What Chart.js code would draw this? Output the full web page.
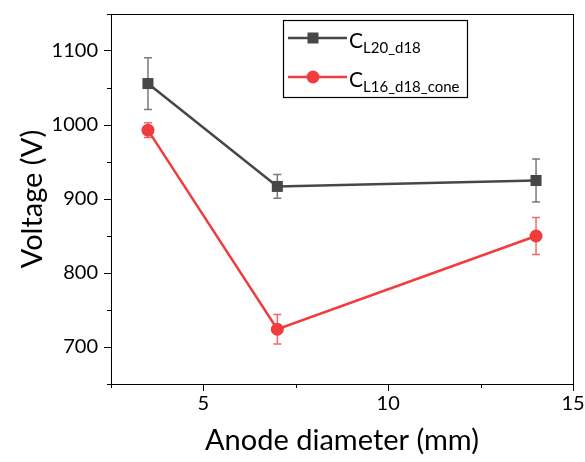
<!DOCTYPE html>
<html>
<head>
<meta charset="utf-8">
<script src="https://cdn.jsdelivr.net/npm/chart.js@4.4.1/dist/chart.umd.min.js"></script>
<style>
  body { margin: 0; background: #fff; }
  #wrap { width: 585px; height: 462px; position: relative; }
</style>
</head>
<body>
<div id="wrap"><canvas id="chart"></canvas></div>
<script>
// data
const diameters = [3.5, 7, 14];
const seriesNames = ['C', 'C'];
const seriesSubs = ['L20_d18', 'L16_d18_cone'];
const voltageL20 = [1056, 917, 925];
const errL20 = [35, 16, 29];
const voltageL16 = [993, 724, 850];
const errL16 = [10, 20, 25];

const FONT = 'Lato, "Open Sans", sans-serif';
const GRAY = '#474747';
const RED = '#f03c3c';

function toPoints(xs, ys) {
  return xs.map((x, i) => ({ x: x, y: ys[i] }));
}

// error bars, drawn under the markers
const errorBars = {
  id: 'errorBars',
  beforeDatasetsDraw(chart) {
    const ctx = chart.ctx;
    const xs = chart.scales.x, ys = chart.scales.y;
    const sets = [[voltageL20, errL20, '#7a7a7a'], [voltageL16, errL16, '#f06a6a']];
    ctx.save();
    ctx.lineWidth = 1.5;
    sets.forEach(([vals, errs, col]) => {
      ctx.strokeStyle = col;
      vals.forEach((v, i) => {
        const px = xs.getPixelForValue(diameters[i]);
        const top = ys.getPixelForValue(v + errs[i]);
        const bot = ys.getPixelForValue(v - errs[i]);
        ctx.beginPath();
        ctx.moveTo(px, top); ctx.lineTo(px, bot);
        ctx.moveTo(px - 4, top); ctx.lineTo(px + 4, top);
        ctx.moveTo(px - 4, bot); ctx.lineTo(px + 4, bot);
        ctx.stroke();
      });
    });
    ctx.restore();
  }
};

// frame, minor ticks and legend box
const frame = {
  id: 'frame',
  afterDraw(chart) {
    const ctx = chart.ctx;
    const a = chart.chartArea;
    ctx.save();
    ctx.strokeStyle = '#000';
    ctx.lineWidth = 1;
    ctx.strokeRect(a.left + 0.5, a.top + 0.5, a.right - a.left, a.bottom - a.top);

    // minor ticks
    ctx.beginPath();
    chart.scales.y.ticks.forEach(t => {
      if (t.value % 100 !== 0) {
        const py = Math.round(chart.scales.y.getPixelForValue(t.value)) + 0.5;
        ctx.moveTo(a.left, py); ctx.lineTo(a.left - 4, py);
      }
    });
    chart.scales.x.ticks.forEach(t => {
      if (t.value % 5 !== 0) {
        const px = Math.round(chart.scales.x.getPixelForValue(t.value)) + 0.5;
        ctx.moveTo(px, a.bottom); ctx.lineTo(px, a.bottom + 4);
      }
    });
    ctx.stroke();

    // legend
    const lx = 283, ly = 20, lw = 184, lh = 77;
    ctx.fillStyle = '#fff';
    ctx.fillRect(lx, ly, lw, lh);
    ctx.lineWidth = 1.2;
    ctx.strokeRect(lx + 0.5, ly + 0.5, lw, lh);

    chart.data.datasets.forEach((ds, i) => {
      const yy = ly + 18 + i * 39;
      ctx.strokeStyle = ds.borderColor;
      ctx.lineWidth = 2.5;
      ctx.beginPath();
      ctx.moveTo(lx + 5, yy); ctx.lineTo(lx + 64, yy);
      ctx.stroke();
      ctx.fillStyle = ds.backgroundColor;
      if (ds.pointStyle === 'rect') {
        ctx.fillRect(lx + 30 - 5.5, yy - 5.5, 11, 11);
      } else {
        ctx.beginPath();
        ctx.arc(lx + 30, yy, 6.5, 0, Math.PI * 2);
        ctx.fill();
      }
      ctx.fillStyle = '#000';
      ctx.textBaseline = 'alphabetic';
      ctx.textAlign = 'left';
      ctx.font = '21px ' + FONT;
      ctx.fillText(seriesNames[i], lx + 66, yy + 10);
      const cw = ctx.measureText(seriesNames[i]).width;
      ctx.font = '15px ' + FONT;
      ctx.fillText(seriesSubs[i], lx + 66 + cw, yy + 15);
    });
    ctx.restore();
  }
};

new Chart(document.getElementById('chart'), {
  type: 'scatter',
  data: {
    datasets: [
      {
        label: seriesNames[0] + seriesSubs[0],
        data: toPoints(diameters, voltageL20),
        showLine: true,
        borderColor: GRAY,
        backgroundColor: GRAY,
        borderWidth: 2.5,
        pointStyle: 'rect',
        pointRadius: 7.8,
        pointHoverRadius: 7.8,
        pointBorderWidth: 0
      },
      {
        label: seriesNames[1] + seriesSubs[1],
        data: toPoints(diameters, voltageL16),
        showLine: true,
        borderColor: RED,
        backgroundColor: RED,
        borderWidth: 2.5,
        pointStyle: 'circle',
        pointRadius: 6.5,
        pointHoverRadius: 6.5,
        pointBorderWidth: 0
      }
    ]
  },
  options: {
    responsive: true,
    maintainAspectRatio: false,
    animation: false,
    layout: { padding: { top: 14, right: 12, left: 0, bottom: 0 } },
    plugins: {
      legend: { display: false },
      tooltip: { enabled: false }
    },
    scales: {
      x: {
        type: 'linear',
        min: 2.5,
        max: 15,
        afterFit: s => { s.height = 78; s.paddingLeft = 0; s.paddingRight = 0; },
        border: { display: true, color: '#000', width: 1 },
        grid: {
          drawOnChartArea: false,
          tickLength: 7,
          tickColor: c => (c.tick && c.tick.value % 5 === 0) ? '#000' : 'rgba(0,0,0,0)'
        },
        ticks: {
          stepSize: 2.5,
          padding: 1,
          color: '#000',
          font: { family: FONT, size: 20 },
          callback: v => (v % 5 === 0 ? v : '')
        },
        title: {
          display: true,
          text: 'Anode diameter (mm)',
          color: '#000',
          font: { family: FONT, size: 29 },
          padding: { top: 0, bottom: 3.6 }
        }
      },
      y: {
        min: 650,
        max: 1150,
        afterFit: s => { s.width = 111; s.paddingTop = 0; s.paddingBottom = 0; },
        border: { display: true, color: '#000', width: 1 },
        grid: {
          drawOnChartArea: false,
          tickLength: 7,
          tickColor: c => (c.tick && c.tick.value % 100 === 0) ? '#000' : 'rgba(0,0,0,0)'
        },
        ticks: {
          stepSize: 50,
          padding: 6,
          color: '#000',
          font: { family: FONT, size: 20 },
          callback: v => (v % 100 === 0 ? v : '')
        },
        title: {
          display: true,
          text: 'Voltage (V)',
          color: '#000',
          font: { family: FONT, size: 29 },
          padding: { top: 15.6, bottom: 0 }
        }
      }
    }
  },
  plugins: [errorBars, frame]
});
</script>
</body>
</html>
